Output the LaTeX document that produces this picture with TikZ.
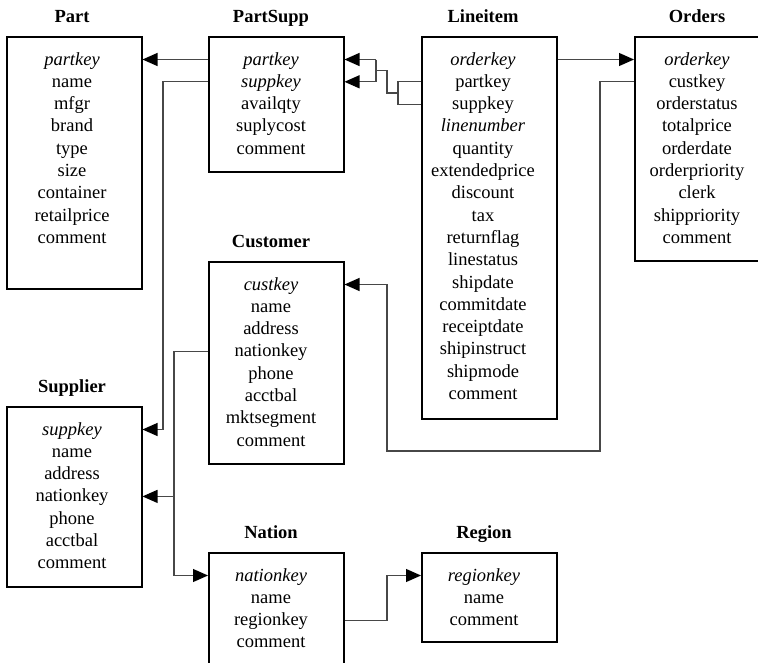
\documentclass[tikz,border=0pt]{standalone}
\usepackage{fontspec}
\setmainfont{Liberation Serif}
\usetikzlibrary{arrows.meta,calc}
\tikzset{
  tablebox/.style={draw=black, line width=1.5pt, anchor=north west, inner sep=0pt, minimum width=135pt},
  tabletitle/.style={anchor=base, inner sep=0pt, font=\fontsize{18.5}{22}\selectfont\bfseries},
  rowtext/.style={anchor=base, inner sep=0pt, text height=11pt, text depth=0pt, font=\fontsize{18.5}{22}\selectfont},
  fk/.style={draw=black!72, line width=1.1pt, -{Triangle[length=15pt,width=13pt,color=black]}},
  link/.style={draw=black!72, line width=1.1pt},
}
\newcommand\ertable[7]{%
  \node[tablebox, minimum height={(#4-#3)*1pt}] (#1) at (#2,#3) {};
  \node[tabletitle] (#1-t) at (#2+#5,#3-14) {#6};
  \foreach \r [count=\k] in {#7}{
    \node[rowtext] (#1-r\k) at (#2+#5,#3+29+\k*22.3-22.3) {\r};
  }
}
\begin{document}
\begin{tikzpicture}[x=1pt,y=-1pt]
\useasboundingbox (0,0) rectangle (758,662);

\ertable{part}{6}{36}{288}{66}{Part}{\textit{partkey},name,mfgr,brand,type,size,container,retailprice,comment}
\ertable{ps}{208}{36}{171}{63}{PartSupp}{\textit{partkey},\textit{suppkey},availqty,suplycost,comment}
\ertable{li}{421}{36}{418}{62}{Lineitem}{\textit{orderkey},partkey,suppkey,\textit{linenumber},quantity,extendedprice,discount,tax,returnflag,linestatus,shipdate,commitdate,receiptdate,shipinstruct,shipmode,comment}
\ertable{ord}{634}{36}{260}{63}{Orders}{\textit{orderkey},custkey,orderstatus,totalprice,orderdate,orderpriority,clerk,shippriority,comment}
\ertable{cust}{208}{261}{463}{63}{Customer}{\textit{custkey},name,address,nationkey,phone,acctbal,mktsegment,comment}
\ertable{sup}{6}{406}{586}{66}{Supplier}{\textit{suppkey},name,address,nationkey,phone,acctbal,comment}
\ertable{nat}{208}{552}{720}{63}{Nation}{\textit{nationkey},name,regionkey,comment}
\ertable{reg}{421}{552}{641}{63}{Region}{\textit{regionkey},name,comment}

% junction coordinates
\coordinate (j1) at (163,0);
\coordinate (b1) at (376,0);
\coordinate (b2) at (387,0);
\coordinate (b3) at (398,0);
\coordinate (k1) at (600,451);
\coordinate (k2) at (387,451);
\coordinate (n1) at (174,0);
\coordinate (g1) at (387,0);
\coordinate (m1) at ($(li-r2)!0.5!(li-r3)$);
\coordinate (m2) at ($(ps-r1)!0.5!(ps-r2)$);

% PartSupp -> Part
\draw[fk] (ps.west |- ps-r1) -- (part.east |- part-r1);
% PartSupp -> Supplier
\draw[fk] (ps.west |- ps-r2) -| (j1 |- sup-r1) -- (sup.east |- sup-r1);
% Lineitem -> PartSupp (composite key)
\draw[link] (li.west |- li-r2) -- (b3 |- li-r2) -- (b3 |- li-r3) -- (li.west |- li-r3);
\draw[link] (b3 |- m1) -- (b2 |- m1) -- (b2 |- m2) -- (b1 |- m2);
\draw[link] (b1 |- ps-r1) -- (b1 |- ps-r2);
\draw[fk] (b1 |- ps-r1) -- (ps.east |- ps-r1);
\draw[fk] (b1 |- ps-r2) -- (ps.east |- ps-r2);
% Lineitem -> Orders
\draw[fk] (li.east |- li-r1) -- (ord.west |- ord-r1);
% Orders -> Customer
\draw[fk] (ord.west |- ord-r2) -| (k1) -- (k2) |- (cust.east |- cust-r1);
% Customer -> Nation, Supplier -> Nation
\draw[fk] (cust.west |- cust-r4) -| (n1 |- nat-r1) -- (nat.west |- nat-r1);
\draw[fk] (n1 |- sup-r4) -- (sup.east |- sup-r4);
% Nation -> Region
\draw[fk] (nat.east |- nat-r3) -| (g1 |- reg-r1) -- (reg.west |- reg-r1);
\end{tikzpicture}
\end{document}
